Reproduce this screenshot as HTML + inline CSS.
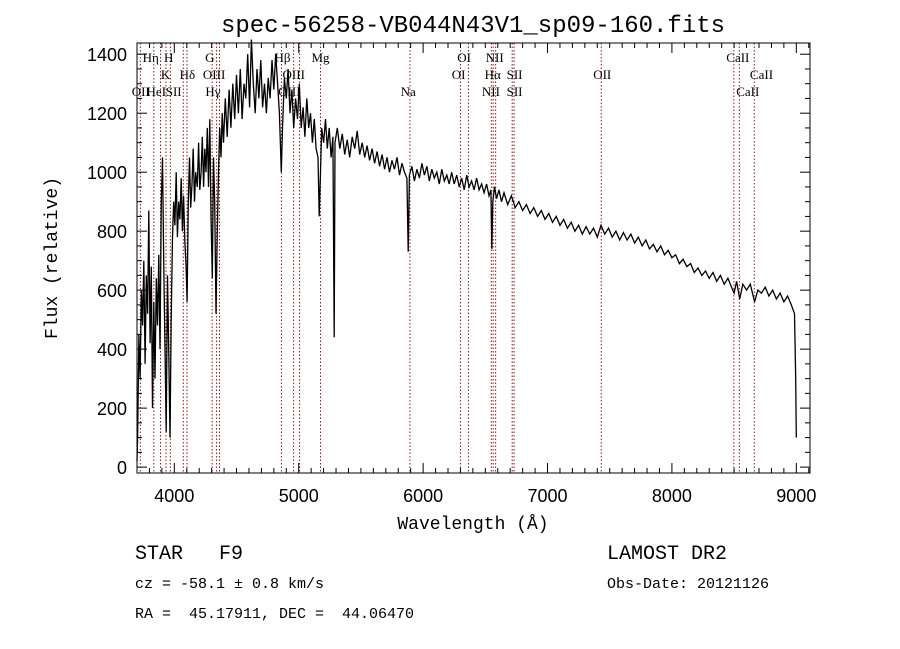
<!DOCTYPE html>
<html><head><meta charset="utf-8"><style>
body{margin:0;background:#fff;}
svg{display:block;}
text{white-space:pre;}
.mono{font-family:"Liberation Mono",monospace;}
.sans{font-family:"Liberation Sans",sans-serif;}
.ser{font-family:"Liberation Serif",serif;font-size:13px;}
</style></head><body>
<svg id="chart" width="900" height="649" viewBox="0 0 900 649" xmlns="http://www.w3.org/2000/svg" xml:space="preserve">
<text x="473" y="32" text-anchor="middle" class="mono" font-size="24">spec-56258-VB044N43V1_sp09-160.fits</text>
<g id="lines"></g>
<g id="labels"></g>
<polyline id="spec" fill="none" stroke="#000" stroke-width="1.3"/>
<rect x="137" y="43" width="673" height="430" fill="none" stroke="#000" stroke-width="1"/>
<g id="ticks"></g>
<text x="473" y="529" text-anchor="middle" class="mono" font-size="18">Wavelength (Å)</text>
<text transform="translate(57,258) rotate(-90)" text-anchor="middle" class="mono" font-size="18">Flux (relative)</text>
<text x="135" y="559" class="mono" font-size="20">STAR   F9</text>
<text x="607" y="559" class="mono" font-size="20">LAMOST DR2</text>
<text x="135" y="588" class="mono" font-size="15">cz = -58.1 ± 0.8 km/s</text>
<text x="607" y="588" class="mono" font-size="15">Obs-Date: 20121126</text>
<text x="135" y="618" class="mono" font-size="15">RA =  45.17911, DEC =  44.06470</text>
</svg>
<script>
const waves=[3700,3705,3715,3725,3735,3745,3755,3765,3775,3785,3795,3805,3815,3825,3835,3845,3855,3865,3875,3885,3895,3905,3915,3925,3935,3945,3955,3965,3975,3985,3995,4005,4015,4025,4035,4045,4055,4065,4075,4085,4095,4103,4112,4122,4132,4142,4152,4162,4172,4185,4195,4205,4215,4225,4235,4245,4255,4265,4275,4285,4295,4305,4315,4325,4335,4345,4355,4365,4375,4385,4395,4410,4425,4440,4455,4470,4485,4500,4515,4530,4545,4560,4575,4590,4605,4620,4635,4650,4665,4680,4695,4710,4725,4740,4755,4770,4785,4800,4815,4830,4845,4860,4870,4885,4900,4915,4930,4945,4960,4975,4990,5005,5020,5035,5050,5065,5080,5095,5110,5125,5140,5155,5165,5175,5185,5200,5215,5230,5245,5260,5275,5285,5292,5310,5330,5350,5370,5390,5410,5430,5450,5470,5490,5510,5530,5550,5570,5590,5610,5630,5650,5670,5690,5710,5730,5750,5770,5790,5810,5830,5850,5870,5880,5890,5910,5930,5950,5970,5990,6010,6030,6050,6070,6090,6110,6130,6150,6170,6190,6210,6230,6250,6270,6290,6310,6330,6350,6370,6390,6410,6430,6450,6470,6490,6510,6530,6545,6552,6560,6575,6590,6610,6630,6650,6680,6710,6740,6770,6800,6830,6860,6890,6920,6950,6980,7010,7040,7070,7100,7130,7160,7190,7220,7250,7280,7310,7340,7370,7400,7430,7460,7490,7520,7550,7580,7610,7640,7670,7700,7730,7760,7790,7820,7850,7880,7910,7940,7970,8000,8030,8060,8090,8120,8150,8180,8210,8240,8270,8300,8330,8360,8390,8420,8450,8480,8500,8520,8545,8570,8600,8630,8665,8690,8720,8750,8780,8810,8840,8870,8900,8930,8960,8985,8995,9000];
const flux=[20,100,450,300,600,480,700,350,650,520,870,420,680,200,560,300,640,480,720,400,900,1050,700,400,120,650,400,100,500,780,900,820,1000,780,900,840,980,800,920,760,680,560,900,1050,880,960,1080,900,1000,950,1100,940,1000,1120,950,1080,1000,1150,950,1180,850,640,1050,900,520,780,1000,1150,1050,1200,1100,1250,1120,1280,1150,1300,1180,1330,1200,1350,1180,1300,1250,1400,1220,1450,1300,1200,1350,1250,1380,1220,1300,1200,1320,1250,1380,1280,1400,1300,1200,1000,1150,1320,1250,1350,1200,1280,1150,1250,1180,1300,1150,1220,1120,1250,1150,1200,1100,1180,1080,1050,850,1000,1150,1100,1180,1080,1150,1050,1120,440,1100,1150,1080,1130,1060,1110,1050,1120,1080,1140,1060,1100,1050,1090,1040,1080,1030,1070,1020,1060,1010,1050,1000,1040,1010,1050,990,1030,1000,980,730,990,1020,970,1010,980,1030,990,1020,970,1010,980,1000,960,1010,970,990,960,1000,960,990,950,980,940,990,950,970,940,980,940,960,930,960,920,940,740,900,950,910,940,900,930,890,920,880,900,870,890,860,880,850,870,840,860,830,850,820,840,810,830,800,820,790,815,790,810,780,820,790,810,780,800,770,795,770,790,760,780,750,770,740,755,730,750,720,735,710,720,690,705,680,690,660,675,650,665,640,660,630,650,620,640,610,590,630,570,620,600,620,560,600,590,610,580,600,570,590,560,580,550,520,300,100];
const lineWaves=[3727,3835,3889,3933,3968,4072,4102,4304,4340,4363,4861,4959,5007,5175,5894,6300,6364,6548,6563,6583,6716,6731,7432,8498,8542,8662];
const labelText=["Hη","H","G","Hβ","Mg","OI","NII","CaII","K","Hδ","OIII","OIII","OI","Hα","SII","OII","CaII","OII","HeI","SII","Hγ","OIII","Na","NII","SII","CaII"];
const labelWave=[3810,3955,4285,4870,5175,6330,6575,8530,3930,4105,4320,4960,6285,6560,6735,7440,8720,3730,3855,3995,4310,4925,5880,6545,6735,8610];
const labelRow=[0,0,0,0,0,0,0,0,1,1,1,1,1,1,1,1,1,2,2,2,2,2,2,2,2,2];
const xTicks=[4000,5000,6000,7000,8000,9000];
const yTicks=[0,200,400,600,800,1000,1200,1400];
const X0=137,X1=810,Y0=473,Y1=43,WMIN=3700,WMAX=9110,FMIN=-20,FMAX=1438;
const xs=w=>X0+(w-WMIN)/(WMAX-WMIN)*(X1-X0);
const ys=f=>Y0-(f-FMIN)/(FMAX-FMIN)*(Y0-Y1);
const NS="http://www.w3.org/2000/svg";
function mk(t,a,p){const e=document.createElementNS(NS,t);for(const k in a)e.setAttribute(k,a[k]);p.appendChild(e);return e;}
document.getElementById('spec').setAttribute('points',waves.map((w,i)=>xs(w).toFixed(1)+','+ys(flux[i]).toFixed(1)).join(' '));
const lg=document.getElementById('lines');
lineWaves.forEach(w=>{const l=mk('line',{x1:xs(w),x2:xs(w),y1:Y1,y2:Y0,stroke:'#8b1a1a','stroke-width':1,'stroke-dasharray':'1.5,2'},lg);

});
const lb=document.getElementById('labels');
labelText.forEach((t,i)=>{const e=mk('text',{x:xs(labelWave[i]),y:62+labelRow[i]*17,'text-anchor':'middle',class:'ser'},lb);e.textContent=t;

});
const tg=document.getElementById('ticks');
for(let w=3700;w<=9100;w+=100){const big=w%1000===0;const x=xs(w);
mk('line',{x1:x,x2:x,y1:Y0,y2:Y0-(big?10:5),stroke:'#000'},tg);mk('line',{x1:x,x2:x,y1:Y1,y2:Y1+(big?10:5),stroke:'#000'},tg);}
for(let f=0;f<=1400;f+=50){const big=f%200===0;const y=ys(f);
mk('line',{x1:X0,x2:X0+(big?10:5),y1:y,y2:y,stroke:'#000'},tg);mk('line',{x1:X1,x2:X1-(big?10:5),y1:y,y2:y,stroke:'#000'},tg);}
xTicks.forEach(v=>{const e=mk('text',{x:xs(v),y:502,'text-anchor':'middle',class:'sans','font-size':18},tg);e.textContent=v;

});
yTicks.forEach(v=>{const e=mk('text',{x:127,y:ys(v)+7,'text-anchor':'end',class:'sans','font-size':18},tg);e.textContent=v;

});
</script>
</body></html>
